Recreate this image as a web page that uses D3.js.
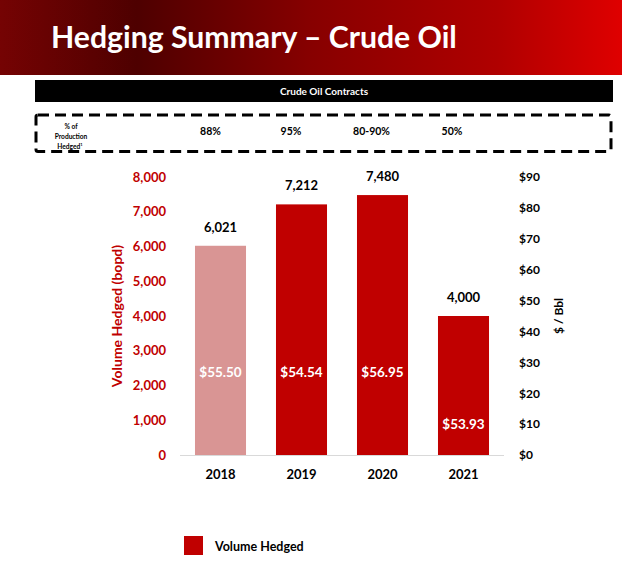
<!DOCTYPE html>
<html><head><meta charset="utf-8">
<script src="https://cdn.jsdelivr.net/npm/d3@7/dist/d3.min.js"></script>
<style>body{margin:0;background:#fff}svg{display:block;font-family:Lato,"Open Sans",sans-serif}</style>
</head><body><svg id="c" width="622" height="563"></svg>
<script>
const categories = ["2018","2019","2020","2021"];
const volumes = [6021, 7212, 7480, 4000];
const prices = [55.50, 54.54, 56.95, 53.93];
const pctHedged = ["88%","95%","80-90%","50%"];
const leftTicks = [0,1000,2000,3000,4000,5000,6000,7000,8000];
const rightTicks = [0,10,20,30,40,50,60,70,80,90];

const svg = d3.select("#c");
const defs = svg.append("defs");
const g = defs.append("linearGradient").attr("id","tg").attr("x1","0").attr("x2","1").attr("y1","0").attr("y2","0");
[[0,"#750303"],[0.22,"#4e0000"],[0.5,"#870000"],[0.8,"#b00000"],[1,"#df0000"]].forEach(s=>g.append("stop").attr("offset",s[0]).attr("stop-color",s[1]));

// Title bar
svg.append("rect").attr("x",0).attr("y",0).attr("width",622).attr("height",75).attr("fill","url(#tg)");
svg.append("text").attr("x",51).attr("y",47.5).attr("fill","#fff").attr("font-size",30.2).attr("font-weight",700)
  .text("Hedging Summary – Crude Oil");

// Black header
svg.append("rect").attr("x",35).attr("y",80).attr("width",578).attr("height",22).attr("fill","#000");
svg.append("text").attr("x",324).attr("y",95).attr("text-anchor","middle").attr("fill","#fff")
  .attr("font-size",10).attr("font-weight",700).text("Crude Oil Contracts");

// Dashed box
svg.append("rect").attr("x",36).attr("y",115).attr("width",575).attr("height",36.5).attr("fill","none")
  .attr("stroke","#000").attr("stroke-width",3).attr("stroke-dasharray","11,6").attr("rx",2);
const lab = svg.append("text").attr("text-anchor","middle").attr("font-size",6.6).attr("font-weight",700).attr("fill","#000");
lab.append("tspan").attr("x",71).attr("y",128.5).text("% of");
lab.append("tspan").attr("x",71).attr("y",139).text("Production");
lab.append("tspan").attr("x",70).attr("y",148.5).text("Hedged");
lab.append("tspan").attr("dy",-2.5).attr("font-size",4).text("1");

const x = d3.scaleBand().domain(categories).range([180,504]).paddingInner(0.37).paddingOuter(0.185);
const y = d3.scaleLinear().domain([0,8000]).range([455,177]);
const y2 = d3.scaleLinear().domain([0,90]).range([455,177]);

svg.append("g").selectAll("text").data(pctHedged).join("text")
  .attr("x",(d,i)=>x(categories[i])+x.bandwidth()/2 - 10 + i*-0.5)
  .attr("y",134.5).attr("text-anchor","middle").attr("font-size",10.5).attr("font-weight",700).text(d=>d);

// Bars
svg.append("g").selectAll("rect").data(volumes).join("rect")
  .attr("x",(d,i)=>x(categories[i])).attr("width",x.bandwidth())
  .attr("y",d=>y(d)).attr("height",d=>y(0)-y(d))
  .attr("fill",(d,i)=>i===0?"#d99594":"#c00000");

// baseline
svg.append("line").attr("x1",180).attr("x2",504).attr("y1",455.5).attr("y2",455.5).attr("stroke","#d9d9d9").attr("stroke-width",1);

// value labels
svg.append("g").selectAll("text").data(volumes).join("text")
  .attr("x",(d,i)=>x(categories[i])+x.bandwidth()/2).attr("y",d=>y(d)-14)
  .attr("text-anchor","middle").attr("font-size",13).attr("font-weight",700).attr("fill","#000")
  .text(d=>d3.format(",")(d));

// price labels inside bars
const labelLevel = v => v>5000 ? 2400 : 900;
svg.append("g").selectAll("text").data(prices).join("text")
  .attr("x",(d,i)=>x(categories[i])+x.bandwidth()/2).attr("y",(d,i)=>y(labelLevel(volumes[i]))+5)
  .attr("text-anchor","middle").attr("font-size",13.5).attr("font-weight",700).attr("fill","#fff")
  .text(d=>"$"+d.toFixed(2));

// Left axis
const la = svg.append("g").attr("transform","translate(172,0)")
  .call(d3.axisLeft(y).tickValues(leftTicks).tickSize(0).tickPadding(6).tickFormat(d3.format(",")));
la.select(".domain").remove();
la.selectAll("text").attr("font-size",13).attr("font-weight",700).attr("fill","#c00000").attr("font-family","Lato,sans-serif");

svg.append("text").attr("transform","translate(122,316) rotate(-90)").attr("text-anchor","middle")
  .attr("font-size",14).attr("font-weight",700).attr("fill","#c00000").text("Volume Hedged (bopd)");

// Right axis
const ra = svg.append("g").attr("transform","translate(513,0)")
  .call(d3.axisRight(y2).tickValues(rightTicks).tickSize(0).tickPadding(6).tickFormat(d=>"$"+d));
ra.select(".domain").remove();
ra.selectAll("text").attr("font-size",12).attr("font-weight",700).attr("fill","#000").attr("font-family","Lato,sans-serif");

svg.append("text").attr("transform","translate(563,316) rotate(-90)").attr("text-anchor","middle")
  .attr("font-size",12).attr("font-weight",700).attr("fill","#000").text("$ / Bbl");

// Category axis
const xa = svg.append("g").attr("transform","translate(0,465)")
  .call(d3.axisBottom(x).tickSize(0).tickPadding(5));
xa.select(".domain").remove();
xa.selectAll("text").attr("font-size",13).attr("font-weight",700).attr("fill","#000").attr("font-family","Lato,sans-serif");

// Legend
svg.append("rect").attr("x",184).attr("y",536).attr("width",19).attr("height",19).attr("fill","#c00000");
svg.append("text").attr("x",215).attr("y",551).attr("font-size",12.5).attr("font-weight",700).attr("fill","#000").text("Volume Hedged");
</script></body></html>
